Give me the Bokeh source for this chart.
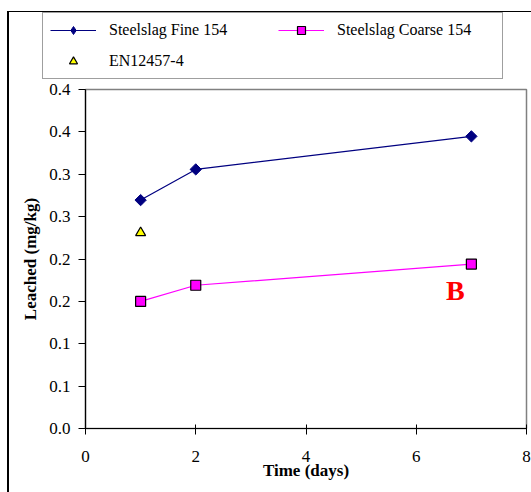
from bokeh.plotting import figure
from bokeh.layouts import column
from bokeh.models import Legend, LegendItem, FixedTicker, Label, Range1d
from bokeh.embed import file_html
from bokeh.resources import INLINE

# ---- data ----
days_fine = [1, 2, 7]
fine_154 = [0.2695, 0.3057, 0.3447]
days_coarse = [1, 2, 7]
coarse_154 = [0.150, 0.169, 0.194]
days_en = [1]
en12457 = [0.231]
x_ticks = [0, 2, 4, 6, 8]
y_ticks = [0.0, 0.05, 0.10, 0.15, 0.20, 0.25, 0.30, 0.35, 0.40]
y_tick_labels = ["0.0", "0.1", "0.1", "0.2", "0.2", "0.3", "0.3", "0.4", "0.4"]

SERIF = "Liberation Serif"
NAVY = "#000080"
MAGENTA = "#FF00FF"


def add_series(fig, visible=True, legend_style=False):
    fl = fig.line(days_fine, fine_154, line_color=NAVY, line_width=1.2, visible=visible)
    if legend_style:
        # legend swatches ignore marker angle, so use the diamond marker there
        fs = fig.scatter(days_fine, fine_154, marker="diamond", size=13,
                         fill_color=NAVY, line_color=NAVY, visible=visible)
    else:
        fs = fig.scatter(days_fine, fine_154, marker="square", angle=0.7854, size=8,
                         fill_color=NAVY, line_color=NAVY, visible=visible)
    cl = fig.line(days_coarse, coarse_154, line_color=MAGENTA, line_width=1.2,
                  visible=visible)
    cs = fig.scatter(days_coarse, coarse_154, marker="square", size=10,
                     fill_color=MAGENTA, line_color="black", line_width=1.2,
                     visible=visible)
    es = fig.scatter(days_en, en12457, marker="triangle", size=10,
                     fill_color="#FFFF00", line_color="black", line_width=1.2,
                     visible=visible)
    return fl, fs, cl, cs, es


# ---------------- main chart ----------------
p = figure(width=531, height=412, output_backend="svg", toolbar_location=None,
           x_range=Range1d(0, 8), y_range=Range1d(0, 0.4),
           min_border_left=85, min_border_right=5,
           min_border_top=9, min_border_bottom=64)
p.frame_align = False
p.styles = {"background": "linear-gradient(#000, #000) 7px 0px / 2px 100% no-repeat, #fff"}
p.background_fill_color = "white"
p.border_fill_alpha = 0
p.xgrid.visible = False
p.ygrid.visible = False
p.outline_line_color = "#808080"
p.outline_line_width = 1.5

p.xaxis.ticker = FixedTicker(ticks=x_ticks)
p.yaxis.ticker = FixedTicker(ticks=y_ticks)
p.yaxis.major_label_overrides = {t: l for t, l in zip(y_ticks, y_tick_labels)}
for ax in (p.xaxis[0], p.yaxis[0]):
    ax.axis_line_color = "black"
    ax.axis_line_width = 1.2
    ax.major_tick_line_color = "black"
    ax.minor_tick_line_color = None
    ax.major_label_text_font = SERIF
    ax.major_label_text_font_size = "17px"
    ax.major_label_text_color = "black"
    ax.axis_label_text_font = SERIF
    ax.axis_label_text_font_style = "bold"
    ax.axis_label_text_font_size = "17px"
    ax.axis_label_text_color = "black"
p.xaxis.major_tick_in = 4
p.xaxis.major_tick_out = 6
p.xaxis.major_label_standoff = 16
p.xaxis.axis_label = "Time (days)"
p.xaxis.axis_label_standoff = -4
p.yaxis.major_tick_in = 0
p.yaxis.major_tick_out = 7
p.yaxis.major_label_standoff = 8
p.yaxis.axis_label = "Leached (mg/kg)"
p.yaxis.axis_label_standoff = 6

add_series(p)

p.add_layout(Label(x=6.71, y=0.163, text="B", text_color="red",
                   text_font=SERIF, text_font_style="bold",
                   text_font_size="28px", text_align="center",
                   text_baseline="middle"))

# ---------------- legend strip (above the chart) ----------------
lg = figure(width=531, height=80, output_backend="svg", toolbar_location=None,
            x_axis_type=None, y_axis_type=None, min_border=0,
            x_range=Range1d(100, 101), y_range=Range1d(100, 101))
lg.frame_align = False
lg.styles = {"background": ("linear-gradient(#000, #000) 7px 11px / 2px 100% no-repeat, "
                            "linear-gradient(#000, #000) 7px 11px / 100% 1px no-repeat, #fff")}
lg.background_fill_alpha = 0
lg.border_fill_alpha = 0
lg.outline_line_color = None
lg.xgrid.visible = False
lg.ygrid.visible = False
l_fl, l_fs, l_cl, l_cs, l_es = add_series(lg, visible=False, legend_style=True)

legend = Legend(items=[
    LegendItem(label="Steelslag Fine 154", renderers=[l_fl, l_fs]),
    LegendItem(label="Steelslag Coarse 154", renderers=[l_cl, l_cs]),
    LegendItem(label="EN12457-4", renderers=[l_es]),
], orientation="horizontal", ncols=2, location=(42, 1))
legend.border_line_color = "#404040"
legend.border_line_width = 1.2
legend.background_fill_color = "white"
legend.padding = 7
legend.margin = 0
legend.spacing = 11
legend.glyph_width = 46
legend.glyph_height = 20
legend.label_height = 20
legend.label_width = 158
legend.label_standoff = 13
legend.label_text_font = SERIF
legend.label_text_font_size = "16px"
legend.label_text_color = "black"
lg.add_layout(legend)

layout = column(lg, p, spacing=0)
open("out.html", "w").write(file_html(layout, INLINE))
